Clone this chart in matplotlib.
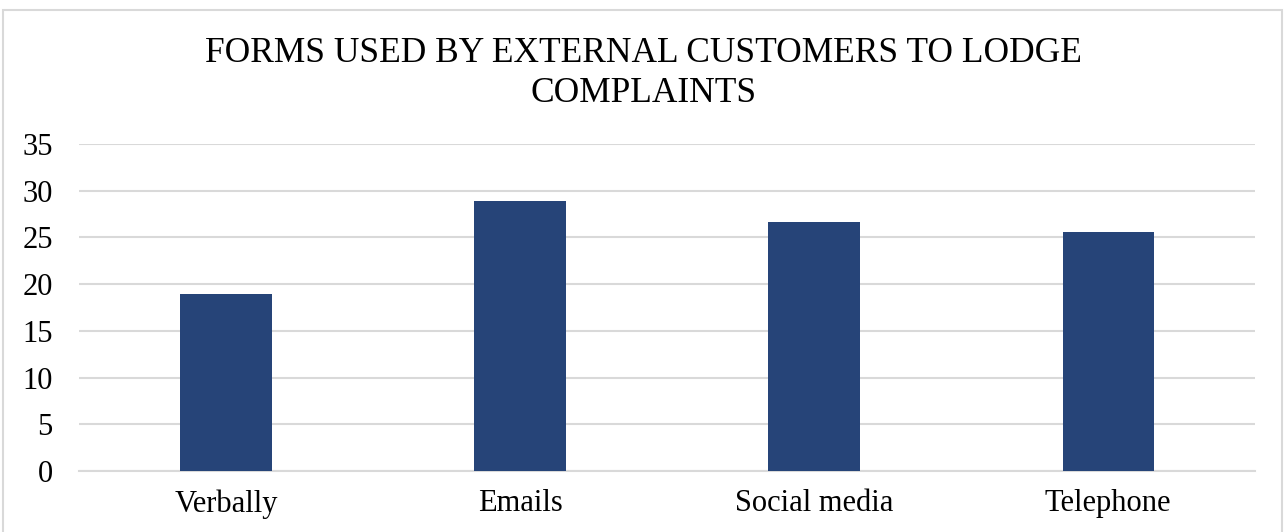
import matplotlib

matplotlib.use("Agg")
import matplotlib.pyplot as plt
from matplotlib.patches import Rectangle

categories = ["Verbally", "Emails", "Social media", "Telephone"]
counts = [18.9, 28.9, 26.7, 25.6]
yticks = [0, 5, 10, 15, 20, 25, 30, 35]

plt.rcParams["font.family"] = ["Liberation Serif", "DejaVu Serif"]

BAR = "#264478"
GRID = "#d9d9d9"

fig = plt.figure(figsize=(12.87, 5.32), dpi=100)
ax = fig.add_axes([0.0614, 0.1147, 0.9138, 0.6147])

x = range(len(categories))
ax.bar(x, counts, width=0.31, color=BAR, zorder=3)

ax.set_xlim(-0.5, len(categories) - 0.5)
ax.set_ylim(0, 35)
ax.set_yticks(yticks)
ax.set_xticks(list(x))
ax.set_xticklabels(categories)
ax.tick_params(axis="both", length=0, labelsize=22, colors="black")
ax.tick_params(axis="y", pad=19)
ax.tick_params(axis="x", pad=13)
ax.grid(axis="y", color=GRID, linewidth=1.5, zorder=0)
for side in ["top", "right", "left"]:
    ax.spines[side].set_visible(False)
ax.spines["bottom"].set_color(GRID)
ax.spines["bottom"].set_linewidth(1.5)

fig.text(0.5, 0.862, "FORMS USED BY EXTERNAL CUSTOMERS TO LODGE\nCOMPLAINTS",
         ha="center", va="center", fontsize=25.5, linespacing=1.25)

# outer chart frame
fig.patches.append(Rectangle((3 / 1287, -0.01), 1279 / 1287, 1 - 10 / 532 + 0.01,
                             transform=fig.transFigure, fill=False,
                             edgecolor=GRID, linewidth=1.5))

fig.savefig("out.png", dpi=100, facecolor="white")
plt.close(fig)
